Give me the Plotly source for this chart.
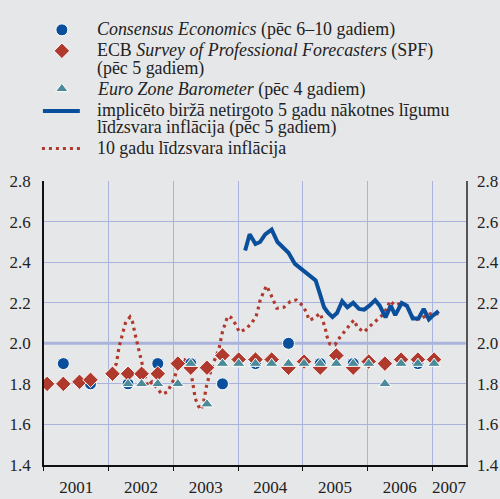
import plotly.graph_objects as go

# ---------------- data ----------------
survey_dates = [2001.05, 2001.30, 2001.55, 2001.72, 2002.06, 2002.30, 2002.51, 2002.76,
                2003.07, 2003.27, 2003.52, 2003.76, 2004.01, 2004.27, 2004.52, 2004.78,
                2005.02, 2005.27, 2005.52, 2005.78, 2006.02, 2006.27, 2006.52, 2006.78,
                2007.03]
spf_values = [1.80, 1.80, 1.81, 1.82, 1.85, 1.85, 1.85, 1.85,
              1.90, 1.88, 1.88, 1.94, 1.92, 1.92, 1.92, 1.88,
              1.91, 1.88, 1.94, 1.88, 1.91, 1.90, 1.92, 1.92,
              1.92]

consensus_dates = [2001.30, 2001.72, 2002.30, 2002.76, 2003.27, 2003.76,
                   2004.27, 2004.78, 2005.27, 2005.78, 2006.27, 2006.78]
consensus_values = [1.9, 1.8, 1.8, 1.9, 1.9, 1.8, 1.9, 2.0, 1.9, 1.9, 1.9, 1.9]

ezb_dates = [2002.30, 2002.51, 2002.76, 2003.07, 2003.27, 2003.52, 2003.76, 2004.01,
             2004.27, 2004.52, 2004.78, 2005.02, 2005.27, 2005.52, 2005.78, 2006.02,
             2006.27, 2006.52, 2006.78, 2007.03]
ezb_values = [1.8, 1.8, 1.8, 1.8, 1.9, 1.7, 1.9, 1.9, 1.9, 1.9, 1.9, 1.9, 1.9, 1.9,
              1.9, 1.9, 1.8, 1.9, 1.9, 1.9]

fwd_dates = [2004.11, 2004.18, 2004.27, 2004.34, 2004.42, 2004.52, 2004.61, 2004.70,
             2004.78, 2004.88, 2004.96, 2005.05, 2005.12, 2005.20, 2005.26, 2005.33,
             2005.39, 2005.46, 2005.53, 2005.61, 2005.69, 2005.78, 2005.87, 2005.95,
             2006.03, 2006.12, 2006.19, 2006.28, 2006.36, 2006.43, 2006.53, 2006.61,
             2006.70, 2006.79, 2006.87, 2006.95, 2007.02, 2007.10]
fwd_values = [2.458, 2.538, 2.49, 2.50, 2.538, 2.561, 2.50, 2.474,
              2.447, 2.392, 2.371, 2.352, 2.332, 2.31, 2.25, 2.178,
              2.151, 2.13, 2.15, 2.208, 2.178, 2.20, 2.17, 2.166,
              2.186, 2.213, 2.186, 2.128, 2.186, 2.139, 2.199, 2.186,
              2.123, 2.123, 2.17, 2.118, 2.139, 2.159]

be10_dates = [2002.05, 2002.12, 2002.16, 2002.22, 2002.26, 2002.33, 2002.37, 2002.42,
              2002.48, 2002.54, 2002.60, 2002.67, 2002.74, 2002.82, 2002.91, 2002.97,
              2003.02, 2003.06, 2003.11, 2003.17, 2003.22, 2003.27, 2003.30, 2003.34,
              2003.39, 2003.43, 2003.47, 2003.49, 2003.52, 2003.55, 2003.62, 2003.67,
              2003.71, 2003.76, 2003.80, 2003.84, 2003.89, 2003.96, 2004.02, 2004.12,
              2004.21, 2004.28, 2004.31, 2004.34, 2004.39, 2004.44, 2004.50, 2004.55,
              2004.60, 2004.71, 2004.81, 2004.90, 2005.00, 2005.06, 2005.10, 2005.17,
              2005.27, 2005.31, 2005.35, 2005.37, 2005.42, 2005.50, 2005.57, 2005.65,
              2005.72, 2005.79, 2005.85, 2005.95, 2006.04, 2006.14, 2006.23, 2006.30,
              2006.35, 2006.42, 2006.52, 2006.62, 2006.67, 2006.73, 2006.84, 2006.97,
              2007.10]
be10_values = [1.86, 1.90, 1.98, 2.06, 2.10, 2.13, 2.105, 2.03,
               1.95, 1.87, 1.79, 1.81, 1.78, 1.75, 1.76, 1.795,
               1.83, 1.88, 1.92, 1.92, 1.90, 1.862, 1.81, 1.727,
               1.69, 1.672, 1.715, 1.754, 1.80, 1.833, 1.906, 1.94,
               1.98, 2.058, 2.096, 2.134, 2.128, 2.095, 2.056, 2.07,
               2.10, 2.134, 2.17, 2.21, 2.25, 2.284, 2.246, 2.21,
               2.173, 2.178, 2.207, 2.214, 2.186, 2.151, 2.114, 2.123,
               2.148, 2.112, 2.073, 2.038, 1.996, 1.993, 2.028, 2.06,
               2.09, 2.115, 2.077, 2.056, 2.085, 2.111, 2.139, 2.172,
               2.21, 2.188, 2.198, 2.182, 2.145, 2.115, 2.126, 2.145,
               2.147]

year_labels = ["2001", "2002", "2003", "2004", "2005", "2006", "2007"]
year_label_pos = [2001.5, 2002.5, 2003.5, 2004.5, 2005.5, 2006.5, 2007.26]
year_bounds = [2001, 2002, 2003, 2004, 2005, 2006, 2007]

legend_texts = [
    "<i>Consensus Economics</i> (pēc 6–10 gadiem)",
    "ECB <i>Survey of Professional Forecasters</i> (SPF)",
    "(pēc 5 gadiem)",
    "<i>Euro Zone Barometer</i> (pēc 4 gadiem)",
    "implicēto biržā netirgoto 5 gadu nākotnes līgumu",
    "līdzsvara inflācija (pēc 5 gadiem)",
    "10 gadu līdzsvara inflācija",
]

# ---------------- style ----------------
BG = "#e6e7e9"
GRID = "#a9b3db"
BLUE = "#0a4f9c"
RED = "#b0392d"
TEAL = "#4b8a99"
FONT = "Liberation Serif, Times New Roman, DejaVu Serif, serif"
TXT = "#222222"
W, H = 500, 499

fig = go.Figure()

# lines
fig.add_trace(go.Scatter(x=be10_dates, y=be10_values, mode="lines",
                         line=dict(color=RED, width=3.2, dash="3px,4px"),
                         showlegend=False, hoverinfo="skip"))
fig.add_trace(go.Scatter(x=fwd_dates, y=fwd_values, mode="lines",
                         line=dict(color=BLUE, width=4),
                         showlegend=False, hoverinfo="skip"))
# markers
mk_line = dict(color="white", width=1)
fig.add_trace(go.Scatter(x=consensus_dates, y=consensus_values, mode="markers",
                         marker=dict(symbol="circle", size=12, color=BLUE, line=mk_line),
                         showlegend=False))
fig.add_trace(go.Scatter(x=survey_dates, y=spf_values, mode="markers",
                         marker=dict(symbol="diamond", size=12, color=RED, line=mk_line),
                         showlegend=False))
fig.add_trace(go.Scatter(x=ezb_dates, y=ezb_values, mode="markers",
                         marker=dict(symbol="triangle-up", size=11, color=TEAL, line=mk_line),
                         showlegend=False))
# invisible trace for right axis
fig.add_trace(go.Scatter(x=[2001.0], y=[1.4], xaxis="x", yaxis="y2", mode="markers",
                         marker=dict(opacity=0), showlegend=False, hoverinfo="skip"))

# legend (drawn on a hidden pixel-space axis)
lx = 62
fig.add_trace(go.Scatter(x=[lx], y=[21.7], xaxis="x3", yaxis="y3", mode="markers",
                         marker=dict(symbol="circle", size=12, color=BLUE, line=mk_line),
                         showlegend=False, hoverinfo="skip"))
fig.add_trace(go.Scatter(x=[lx], y=[43.5], xaxis="x3", yaxis="y3", mode="markers",
                         marker=dict(symbol="diamond", size=12, color=RED, line=mk_line),
                         showlegend=False, hoverinfo="skip"))
fig.add_trace(go.Scatter(x=[lx], y=[83], xaxis="x3", yaxis="y3", mode="markers",
                         marker=dict(symbol="triangle-up", size=11, color=TEAL, line=mk_line),
                         showlegend=False, hoverinfo="skip"))
fig.add_trace(go.Scatter(x=[43, 80], y=[106, 106], xaxis="x3", yaxis="y3", mode="lines",
                         line=dict(color=BLUE, width=4), showlegend=False, hoverinfo="skip"))
fig.add_trace(go.Scatter(x=[42, 82], y=[145, 145], xaxis="x3", yaxis="y3", mode="lines",
                         line=dict(color=RED, width=3.2, dash="3px,4px"),
                         showlegend=False, hoverinfo="skip"))

legend_y = [21.7, 43.3, 61.7, 83.3, 105, 123.3, 145]
annotations = []
for t, yy in zip(legend_texts, legend_y):
    annotations.append(dict(x=95, y=yy, xref="x3", yref="y3", text=t, showarrow=False,
                            xanchor="left", yanchor="middle",
                            font=dict(family=FONT, size=17.9, color=TXT)))

x0d, x1d = 44 / W, 466.7 / W
y0d, y1d = (H - 474) / H, (H - 179) / H

fig.update_layout(
    width=W, height=H, autosize=False,
    margin=dict(l=0, r=0, t=0, b=0),
    paper_bgcolor=BG, plot_bgcolor=BG,
    font=dict(family=FONT, size=17, color=TXT),
    annotations=annotations,
    shapes=[dict(type="line", xref="x", yref="y", x0=2001.0, x1=2007.52, y0=2.0, y1=2.0,
                 line=dict(color=GRID, width=3), layer="below")],
    xaxis=dict(domain=[x0d, x1d], range=[2001.0, 2007.52], anchor="y",
               tickmode="array", tickvals=year_label_pos, ticktext=year_labels,
               showgrid=False, ticks="", zeroline=False, ticklabelstandoff=6,
               showline=True, linecolor="#111111", linewidth=1.5,
               tickfont=dict(family=FONT, size=17, color=TXT),
               minor=dict(tickmode="array", tickvals=year_bounds, showgrid=True,
                          gridcolor=GRID, gridwidth=1, ticks="outside", ticklen=4,
                          tickcolor="#111111", tickwidth=1.2)),
    yaxis=dict(domain=[y0d, y1d], range=[1.4, 2.8], anchor="x",
               tickmode="array", tickvals=[1.4, 1.6, 1.8, 2.0, 2.2, 2.4, 2.6, 2.8],
               tickformat=".1f", showgrid=True, gridcolor=GRID, gridwidth=1,
               zeroline=False, ticks="", showline=True, linecolor="#111111",
               linewidth=1.5, ticklabelstandoff=8,
               tickfont=dict(family=FONT, size=17, color=TXT)),
    yaxis2=dict(domain=[y0d, y1d], range=[1.4, 2.8], overlaying="y", side="right",
                anchor="x", tickmode="array",
                tickvals=[1.4, 1.6, 1.8, 2.0, 2.2, 2.4, 2.6, 2.8], tickformat=".1f",
                showgrid=False, zeroline=False, ticks="", showline=True,
                linecolor="#555555", linewidth=1.5, ticklabelstandoff=6,
                tickfont=dict(family=FONT, size=17, color=TXT)),
    xaxis3=dict(domain=[0, 1], range=[0, W], anchor="y3", visible=False, fixedrange=True),
    yaxis3=dict(domain=[1 - 160 / H, 1], range=[160, 0], anchor="x3", visible=False,
                fixedrange=True),
)

fig.write_html("out.html", config={"displayModeBar": False},
               post_script="document.body.style.margin='0';document.body.style.overflow='hidden';")
